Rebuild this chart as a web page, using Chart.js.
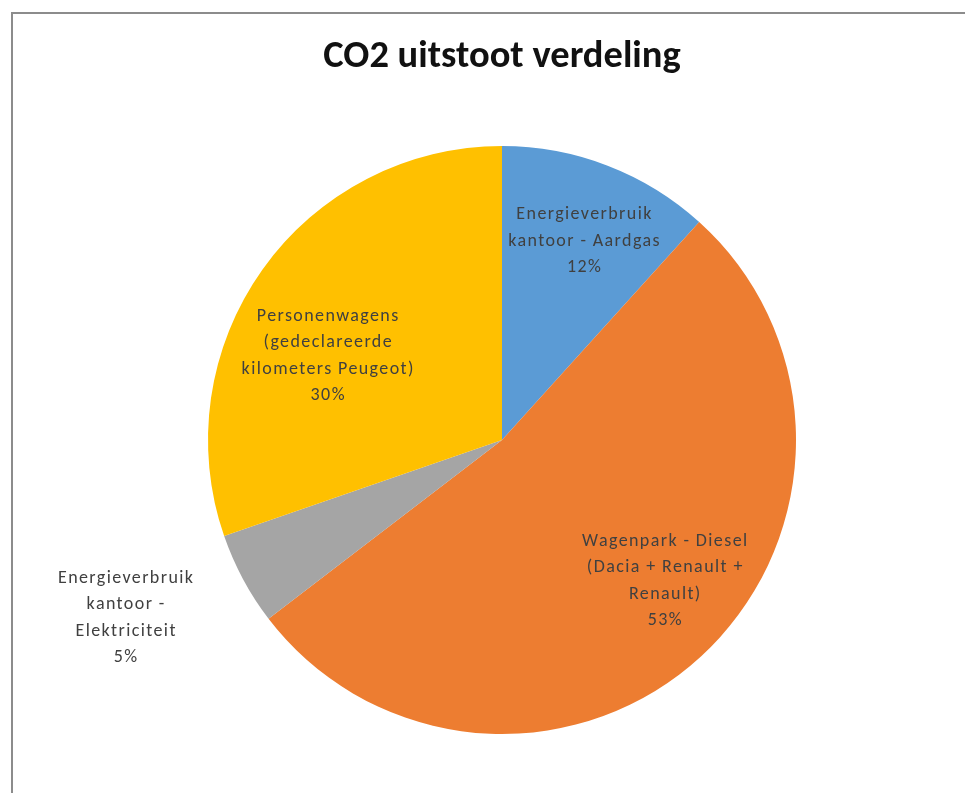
<!DOCTYPE html>
<html>
<head>
<meta charset="utf-8">
<script src="https://cdn.jsdelivr.net/npm/chart.js@4"></script>
<style>
  html, body { margin: 0; padding: 0; background: #fff; }
  canvas { display: block; }
</style>
</head>
<body>
<canvas id="myChart" width="965" height="793"></canvas>
<script>
// Data -----------------------------------------------------------
const categorieen = [
  ['Energieverbruik', 'kantoor - Aardgas'],
  ['Wagenpark - Diesel', '(Dacia + Renault +', 'Renault)'],
  ['Energieverbruik', 'kantoor -', 'Elektriciteit'],
  ['Personenwagens', '(gedeclareerde', 'kilometers Peugeot)']
];
const uitstoot = [11.7, 52.9, 5.1, 30.3];
const kleuren = ['#5B9BD5', '#ED7D31', '#A5A5A5', '#FFC000'];

const fontFam = 'Carlito, Calibri, Lato, sans-serif';

// where each label sits (angle shift in degrees, fraction of radius)
const labelShift = [1.2, -6.6, 3.1, -9.5];
const labelRadius = [0.735, 0.73, 1.415, 0.66];

// frame around the chart, like the Excel chart border
const kader = {
  id: 'kader',
  beforeDraw(chart) {
    const c = chart.ctx;
    c.save();
    c.fillStyle = '#fff';
    c.fillRect(0, 0, chart.width, chart.height);
    c.strokeStyle = '#8c8c8c';
    c.lineWidth = 2;
    c.beginPath();
    c.moveTo(12, chart.height);
    c.lineTo(12, 13);
    c.lineTo(chart.width, 13);
    c.stroke();
    c.restore();
  }
};

// data labels: naam + percentage
const labels = {
  id: 'labels',
  afterDatasetsDraw(chart) {
    const c = chart.ctx;
    const meta = chart.getDatasetMeta(0);
    const data = chart.data.datasets[0].data;
    const totaal = data.reduce((a, b) => a + b, 0);
    c.save();
    c.font = '18px ' + fontFam;
    c.letterSpacing = '1.4px';
    c.fillStyle = '#404040';
    c.textAlign = 'center';
    c.textBaseline = 'middle';
    meta.data.forEach((arc, i) => {
      const p = arc.getProps(['x', 'y', 'startAngle', 'endAngle', 'outerRadius'], true);
      const mid = (p.startAngle + p.endAngle) / 2 + labelShift[i] * Math.PI / 180;
      const r = p.outerRadius * labelRadius[i];
      const cx = p.x + r * Math.cos(mid);
      const cy = p.y + r * Math.sin(mid);
      const regels = categorieen[i].concat([Math.round(data[i] / totaal * 100) + '%']);
      const lh = 26.3;
      regels.forEach((t, k) => {
        c.fillText(t, cx + 0.7, cy + 1 + (k - (regels.length - 1) / 2) * lh);
      });
    });
    c.restore();
  }
};

const ctx = document.getElementById('myChart');
Object.myPlot = new Chart(ctx, {
  type: 'pie',
  data: {
    labels: categorieen,
    datasets: [{
      data: uitstoot,
      backgroundColor: kleuren,
      borderWidth: 0
    }]
  },
  options: {
    responsive: false,
    animation: false,
    layout: {
      padding: { top: 0, left: 208, right: 169, bottom: 59 }
    },
    plugins: {
      legend: { display: false },
      tooltip: { enabled: false },
      title: {
        display: true,
        text: 'CO2 uitstoot verdeling',
        color: '#111',
        font: { family: fontFam, size: 38.5, weight: 'bold', lineHeight: 1.2 },
        padding: { top: 34, bottom: 65.8 }
      }
    }
  },
  plugins: [kader, labels]
});
</script>
</body>
</html>
